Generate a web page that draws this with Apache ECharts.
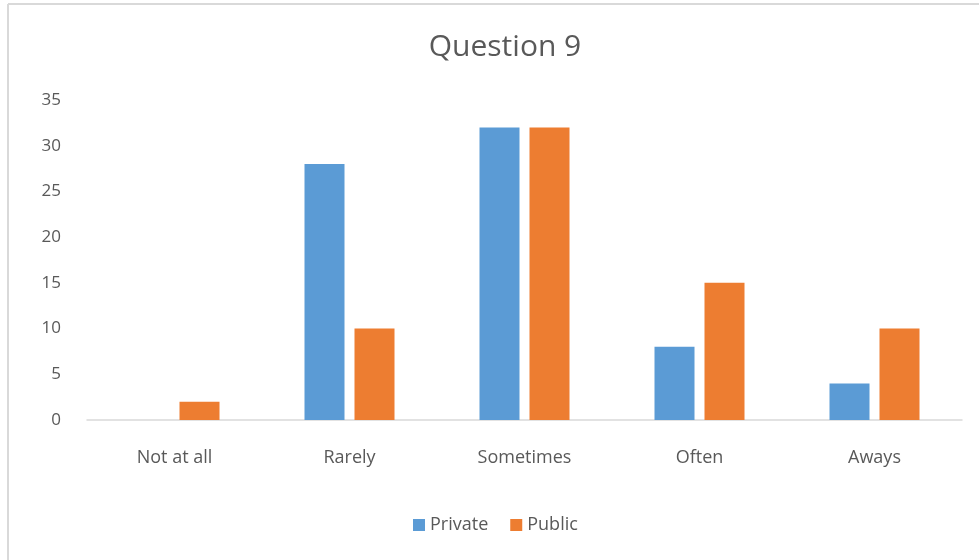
<!DOCTYPE html>
<html><head><meta charset="utf-8">
<script src="https://cdn.jsdelivr.net/npm/echarts@6/dist/echarts.min.js"></script>
<style>html,body{margin:0;padding:0;background:#fff}#c{width:979px;height:560px}</style>
</head><body><div id="c"></div>
<script>
const categories = ["Not at all", "Rarely", "Sometimes", "Often", "Aways"];
const privateValues = [0, 28, 32, 8, 4];
const publicValues = [2, 10, 32, 15, 10];
const seriesNames = ["Private", "Public"];
const chartTitle = "Question 9";

const chart = echarts.init(document.getElementById('c'));
const font = "Open Sans, Noto Sans, sans-serif";
const textColor = "#595959";
chart.setOption({
  animation: false,
  backgroundColor: "#fff",
  title: { text: chartTitle, left: 500, textAlign: 'center', top: 27,
    textStyle: { fontFamily: font, fontSize: 30, fontWeight: 'normal', color: textColor } },
  legend: { bottom: 21, left: 408, itemWidth: 12, itemHeight: 12, itemGap: 22,
    icon: 'rect',
    textStyle: { fontFamily: font, fontSize: 18, color: textColor } },
  grid: { left: 87, right: 17, top: 100, bottom: 140, containLabel: false },
  xAxis: { type: 'category', data: categories,
    axisLine: { lineStyle: { color: '#d9d9d9', width: 1.5 } },
    axisTick: { show: false },
    axisLabel: { fontFamily: font, fontSize: 18, color: textColor, margin: 29 } },
  yAxis: { type: 'value', min: 0, max: 35, interval: 5,
    axisLine: { show: false }, axisTick: { show: false },
    splitLine: { show: false },
    axisLabel: { fontFamily: font, fontSize: 17, color: textColor, margin: 26 } },
  series: [
    { name: seriesNames[0], type: 'bar', data: privateValues, barWidth: 40, barGap: '25%',
      itemStyle: { color: '#5b9bd5' } },
    { name: seriesNames[1], type: 'bar', data: publicValues, barWidth: 40, barGap: '25%',
      itemStyle: { color: '#ed7d31' } }
  ],
  graphic: [
    { type: 'line', shape: { x1: 8, y1: 4, x2: 979, y2: 4 }, style: { stroke: '#d9d9d9', lineWidth: 2 } },
    { type: 'line', shape: { x1: 8, y1: 4, x2: 8, y2: 560 }, style: { stroke: '#d9d9d9', lineWidth: 2 } }
  ]
});
</script></body></html>
